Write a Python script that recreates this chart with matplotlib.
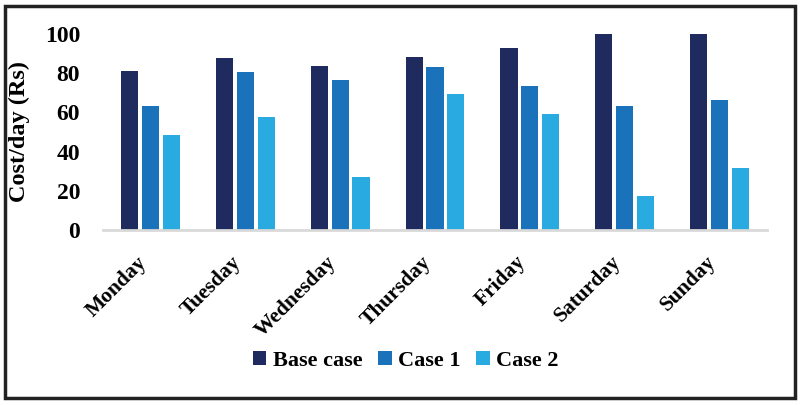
import numpy as np
import matplotlib
matplotlib.use('Agg')
import matplotlib.pyplot as plt
from matplotlib.patches import Rectangle

days = ['Monday', 'Tuesday', 'Wednesday', 'Thursday', 'Friday', 'Saturday', 'Sunday']
base_case = [81, 88, 83.5, 88.5, 93, 100, 100]
case_1 = [63.5, 80.5, 76.5, 83, 73.5, 63.5, 66.5]
case_2 = [48.5, 57.5, 27, 69.5, 59, 17.5, 31.5]

series = ['Base case', 'Case 1', 'Case 2']
colors = ['#1f2a5e', '#1a72bb', '#29abe2']

plt.rcParams['font.family'] = ['Liberation Serif', 'DejaVu Serif']
plt.rcParams['font.weight'] = 'bold'

fig = plt.figure(figsize=(8.01, 4.05), dpi=100)
ax = fig.add_axes([103 / 801, 1 - 230 / 405, 664 / 801, 196 / 405])

x = np.arange(len(days))
width = 0.18
step = 0.22
for i, (vals, name) in enumerate(zip([base_case, case_1, case_2], series)):
    ax.bar(x + (i - 1) * step, vals, width, color=colors[i], label=name, zorder=2)

ax.set_xlim(-0.5, len(days) - 0.5)
ax.set_ylim(0, 100)
ax.set_yticks(range(0, 101, 20))
ax.set_xticks(x)
ax.set_xticklabels(days, rotation=45, ha='right', fontsize=15.5, fontweight='bold')
ax.tick_params(axis='y', length=0, pad=16.5, labelsize=17)
ax.tick_params(axis='x', length=0, pad=16)
for lbl in ax.get_yticklabels():
    lbl.set_fontweight('bold')

for s in ['top', 'right', 'left']:
    ax.spines[s].set_visible(False)
ax.spines['bottom'].set_color('#d9d9d9')
ax.spines['bottom'].set_linewidth(2)
ax.spines['bottom'].set_zorder(3)

ax.set_ylabel('Cost/day (Rs)', fontsize=17.5, fontweight='bold')
ax.yaxis.set_label_coords((30 - 103) / 664, 0.5)

fig.legend(loc='center', bbox_to_anchor=(406 / 801, 1 - 361 / 405), ncol=3,
           frameon=False, fontsize=16, handlelength=0.6, handleheight=0.6,
           handletextpad=0.3, columnspacing=0.7)

# outer border around the figure
fig.patches.append(Rectangle((5 / 801, 7 / 405), 790 / 801, 392 / 405,
                             transform=fig.transFigure, fill=False,
                             edgecolor='#222222', linewidth=2.5))

fig.savefig('out.png', dpi=100)
